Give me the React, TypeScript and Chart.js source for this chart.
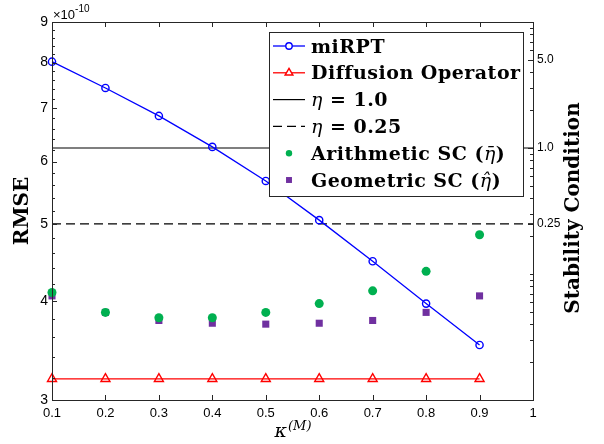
import { useEffect, useRef } from "react";
import { Chart, registerables } from "chart.js";

Chart.register(...registerables);

// RMSE values are given in units of 1e-10.
const RMSE_EXPONENT = -10;
const kappa = [0.1, 0.2, 0.3, 0.4, 0.5, 0.6, 0.7, 0.8, 0.9];
const miRPT = [8.02, 7.43, 6.85, 6.26, 5.67, 5.06, 4.49, 3.97, 3.52];
const diffusionOperator = [3.19, 3.19, 3.19, 3.19, 3.19, 3.19, 3.19, 3.19, 3.19];
const arithmeticSC = [4.1, 3.87, 3.81, 3.81, 3.87, 3.97, 4.12, 4.36, 4.85];
const geometricSC = [4.06, 3.87, 3.78, 3.75, 3.74, 3.75, 3.78, 3.87, 4.06];
const etaLevels = [1.0, 0.25];
const etaSpan = [0.1, 1];

const xTicks = [0.1, 0.2, 0.3, 0.4, 0.5, 0.6, 0.7, 0.8, 0.9, 1];
const rmseTicks = [3, 4, 5, 6, 7, 8, 9];
const stabilityTicks = [0.25, 1.0, 5.0];

const legendLabels = [
  "miRPT",
  "Diffusion Operator",
  "η = 1.0",
  "η = 0.25",
  "Arithmetic SC (η̄)",
  "Geometric SC (η̂)",
];

const AXIS = "#262626";
const BLUE = "#0000ff";
const RED = "#ff0000";
const GREEN = "#00b050";
const PURPLE = "#7030a0";
const SANS = "'Liberation Sans', Arial, sans-serif";
const SERIF = "'DejaVu Serif', serif";

const pts = (xs: number[], ys: number[]) => xs.map((x, i) => ({ x, y: ys[i] }));

function markerPath(
  ctx: CanvasRenderingContext2D,
  style: string,
  x: number,
  y: number,
  r: number
) {
  ctx.beginPath();
  if (style === "triangle") {
    let rad = 0;
    ctx.moveTo(x + Math.sin(rad) * r, y - Math.cos(rad) * r);
    rad += (2 * Math.PI) / 3;
    ctx.lineTo(x + Math.sin(rad) * r, y - Math.cos(rad) * r);
    rad += (2 * Math.PI) / 3;
    ctx.lineTo(x + Math.sin(rad) * r, y - Math.cos(rad) * r);
    ctx.closePath();
  } else if (style === "rect") {
    const s = r * Math.SQRT1_2;
    ctx.rect(x - s, y - s, 2 * s, 2 * s);
  } else {
    ctx.arc(x, y, r, 0, Math.PI * 2);
  }
}

// Draws text where Greek letters (with accents) are set in math italic and the rest in bold.
function drawMixedText(ctx: CanvasRenderingContext2D, text: string, x: number, y: number, size: number) {
  const parts = text.match(/[\u0370-\u03ff][\u0300-\u036f]*|[^\u0370-\u03ff]+/g) || [];
  let cx = x;
  const c: any = ctx;
  c.letterSpacing = "0.5px";
  for (const p of parts) {
    const greek = /[\u0370-\u03ff]/.test(p);
    ctx.font = greek ? `italic ${size}px ${SERIF}` : `bold ${size}px ${SERIF}`;
    ctx.fillText(p, cx, y);
    cx += ctx.measureText(p).width;
  }
  c.letterSpacing = "0px";
}

const insetLegend = {
  id: "insetLegend",
  afterDatasetsDraw(chart: any) {
    const { ctx } = chart;
    const bx = 269, by = 32, bw = 255, bh = 165;
    ctx.save();
    ctx.fillStyle = "#fff";
    ctx.fillRect(bx, by, bw, bh);
    ctx.strokeStyle = AXIS;
    ctx.lineWidth = 1;
    ctx.strokeRect(bx + 0.5, by + 0.5, bw - 1, bh - 1);
    const rowY0 = 46;
    const step = 26.8;
    chart.data.datasets.forEach((ds: any, i: number) => {
      const cy = rowY0 + i * step;
      const lx0 = 273, lx1 = 305, mx = 289;
      if (ds.showLine !== false) {
        ctx.save();
        ctx.strokeStyle = ds.borderColor;
        ctx.lineWidth = ds.borderWidth;
        ctx.setLineDash(ds.borderDash || []);
        ctx.beginPath();
        ctx.moveTo(lx0, cy);
        ctx.lineTo(lx1, cy);
        ctx.stroke();
        ctx.restore();
      }
      if (ds.pointRadius > 0) {
        const r = ds.pointStyle === "rect" ? 4.2 : ds.pointStyle === "triangle" ? 4.5 : 3.2;
        markerPath(ctx, ds.pointStyle, mx, cy, r);
        if (ds.pointBackgroundColor && ds.pointBackgroundColor !== "transparent") {
          ctx.fillStyle = ds.pointBackgroundColor;
          ctx.fill();
        } else {
          ctx.fillStyle = "#fff";
          ctx.fill();
          ctx.strokeStyle = ds.pointBorderColor;
          ctx.lineWidth = 1.4;
          ctx.stroke();
        }
      }
      ctx.fillStyle = "#000";
      ctx.textBaseline = "alphabetic";
      drawMixedText(ctx, ds.label, 311, cy + 6.5, 19);
    });
    ctx.restore();
  },
};

const axesFrame = {
  id: "axesFrame",
  afterDraw(chart: any) {
    const { ctx, chartArea: a, scales } = chart;
    const sx = scales.x, sy = scales.y, sy2 = scales.y2;
    const line = (x0: number, y0: number, x1: number, y1: number) => {
      ctx.beginPath();
      ctx.moveTo(x0, y0);
      ctx.lineTo(x1, y1);
      ctx.stroke();
    };
    ctx.save();
    ctx.strokeStyle = AXIS;
    ctx.lineWidth = 1;
    // x ticks, bottom and top
    for (const v of xTicks) {
      const px = Math.round(sx.getPixelForValue(v)) + 0.5;
      line(px, a.bottom, px, a.bottom - 5);
      line(px, a.top, px, a.top + 5);
    }
    // left (RMSE) ticks
    for (let i = 0; i <= 30; i++) {
      const v = 3 + i * 0.2;
      const len = i % 5 === 0 ? 5 : 3;
      const py = Math.round(sy.getPixelForValue(v)) + 0.5;
      line(a.left, py, a.left + len, py);
    }
    // right (stability) ticks
    for (let n = -2; n <= 1; n++) {
      for (let k = 1; k <= 9; k++) {
        const v = k * Math.pow(10, n);
        if (v > 10.0001) break;
        const py = Math.round(sy2.getPixelForValue(v)) + 0.5;
        line(a.right - 3, py, a.right, py);
      }
    }
    for (const v of stabilityTicks) {
      const py = Math.round(sy2.getPixelForValue(v)) + 0.5;
      line(a.right - 5, py, a.right, py);
    }
    // frame
    ctx.strokeRect(Math.round(a.left) + 0.5, Math.round(a.top) + 0.5, Math.round(a.right - a.left), Math.round(a.bottom - a.top));

    // exponent label
    ctx.fillStyle = "#000";
    ctx.textBaseline = "alphabetic";
    ctx.textAlign = "left";
    ctx.font = `13px ${SANS}`;
    ctx.fillText("×10", a.left + 1, 19);
    const w = ctx.measureText("×10").width;
    ctx.font = `10px ${SANS}`;
    ctx.fillText(String(RMSE_EXPONENT), a.left + 1 + w, 12);

    // axis titles
    const midY = (a.top + a.bottom) / 2;
    ctx.textAlign = "center";
    ctx.textBaseline = "middle";
    ctx.font = `bold 20px ${SERIF}`;
    ctx.save();
    ctx.translate(23, midY);
    ctx.rotate(-Math.PI / 2);
    ctx.fillText("RMSE", 0, 0);
    ctx.restore();
    ctx.save();
    ctx.translate(574, midY - 3);
    ctx.rotate(-Math.PI / 2);
    ctx.fillText("Stability Condition", 0, 0);
    ctx.restore();

    // x title: kappa with superscript (M)
    ctx.textAlign = "left";
    ctx.textBaseline = "alphabetic";
    ctx.font = `italic 19px ${SERIF}`;
    const k = "κ";
    const kw = ctx.measureText(k).width;
    ctx.font = `italic 13px ${SERIF}`;
    const sup = "(M)";
    const sw = ctx.measureText(sup).width;
    const x0 = (a.left + a.right) / 2 - (kw + sw) / 2;
    ctx.font = `italic 19px ${SERIF}`;
    ctx.fillText(k, x0, 437);
    ctx.font = `italic 13px ${SERIF}`;
    ctx.fillText(sup, x0 + kw + 1, 430);
    ctx.restore();
  },
};

export default function App() {
  const ref = useRef<HTMLCanvasElement>(null);
  useEffect(() => {
    const lineSet = (label: string, ys: number[], color: string, style: string, r: number) => ({
      label,
      data: pts(kappa, ys),
      yAxisID: "y",
      borderColor: color,
      borderWidth: 1.3,
      pointStyle: style,
      pointRadius: r,
      pointBorderColor: color,
      pointBorderWidth: 1.4,
      pointBackgroundColor: "transparent",
      clip: false as any,
    });
    const etaSet = (label: string, eta: number, dash: number[]) => ({
      label,
      data: etaSpan.map((x) => ({ x, y: eta })),
      yAxisID: "y2",
      borderColor: "#000",
      borderWidth: 1.2,
      borderDash: dash,
      pointRadius: 0,
      pointStyle: "circle",
    });
    const scatterSet = (label: string, ys: number[], color: string, style: string, r: number) => ({
      label,
      data: pts(kappa, ys),
      yAxisID: "y",
      showLine: false,
      borderColor: color,
      pointStyle: style,
      pointRadius: r,
      pointBorderWidth: 0,
      pointBorderColor: color,
      pointBackgroundColor: color,
      clip: false as any,
    });

    const chart = new Chart(ref.current!, {
      type: "line",
      data: {
        datasets: [
          lineSet(legendLabels[0], miRPT, BLUE, "circle", 3.6),
          lineSet(legendLabels[1], diffusionOperator, RED, "triangle", 5.2),
          etaSet(legendLabels[2], etaLevels[0], []),
          etaSet(legendLabels[3], etaLevels[1], [9, 5]),
          scatterSet(legendLabels[4], arithmeticSC, GREEN, "circle", 4.5),
          scatterSet(legendLabels[5], geometricSC, PURPLE, "rect", 5),
        ] as any,
      },
      options: {
        responsive: false,
        animation: false,
        devicePixelRatio: 1,
        layout: { padding: { top: 22, left: 0, right: 0, bottom: 0 } },
        plugins: { legend: { display: false }, tooltip: { enabled: false } },
        elements: { line: { tension: 0 } },
        scales: {
          x: {
            type: "linear",
            min: 0.1,
            max: 1,
            grid: { display: false, drawTicks: false },
            border: { display: false },
            afterBuildTicks: (s: any) => {
              s.ticks = xTicks.map((value) => ({ value }));
            },
            afterFit: (s: any) => {
              s.height = 44;
            },
            ticks: {
              autoSkip: false,
              maxRotation: 0,
              padding: 6,
              color: "#000",
              font: { family: SANS, size: 13 },
              callback: (v: any) => (v === 1 ? "1" : Number(v).toFixed(1)),
            },
          },
          y: {
            type: "logarithmic",
            position: "left",
            min: 3,
            max: 9,
            grid: { display: false, drawTicks: false },
            border: { display: false },
            afterBuildTicks: (s: any) => {
              s.ticks = rmseTicks.map((value) => ({ value }));
            },
            afterFit: (s: any) => {
              s.width = 52;
            },
            ticks: {
              autoSkip: false,
              padding: 4,
              color: "#000",
              font: { family: SANS, size: 14 },
              callback: (v: any) => String(v),
            },
          },
          y2: {
            type: "logarithmic",
            position: "right",
            min: 0.01,
            max: 10,
            grid: { display: false, drawTicks: false },
            border: { display: false },
            afterBuildTicks: (s: any) => {
              s.ticks = stabilityTicks.map((value) => ({ value }));
            },
            afterFit: (s: any) => {
              s.width = 71;
            },
            ticks: {
              autoSkip: false,
              padding: 4,
              color: "#000",
              font: { family: SANS, size: 12 },
              callback: (v: any) => (v === 0.25 ? "0.25" : Number(v).toFixed(1)),
            },
          },
        },
      } as any,
      plugins: [insetLegend, axesFrame],
    });
    return () => chart.destroy();
  }, []);

  return (
    <div style={{ position: "fixed", left: 0, top: 0, width: 604, height: 444, background: "#fff" }}>
      <canvas ref={ref} width={604} height={444} style={{ display: "block" }} />
    </div>
  );
}
